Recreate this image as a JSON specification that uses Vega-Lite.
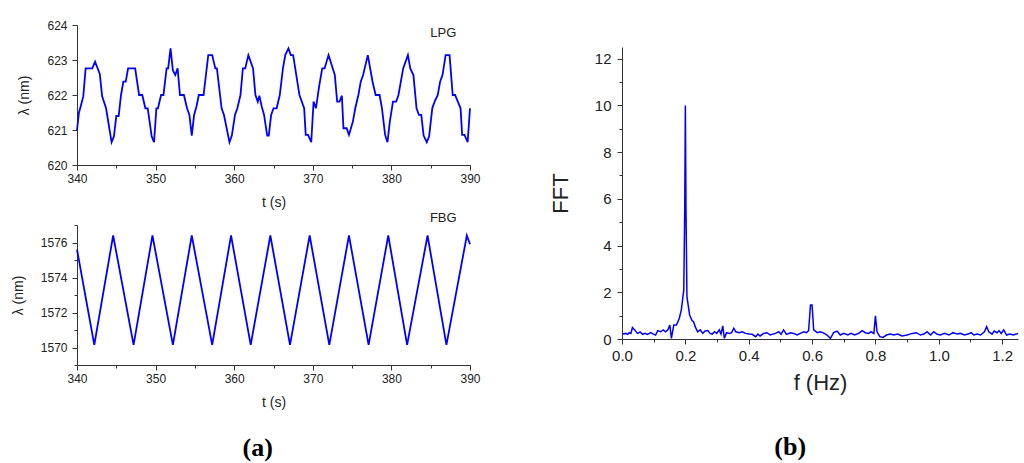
{
  "$schema": "https://vega.github.io/schema/vega-lite/v6.json",
  "background": "white",
  "padding": {"left": 11, "top": 19, "right": 2, "bottom": 2},
  "config": {
    "view": {"stroke": null},
    "font": "Liberation Sans",
    "axis": {
      "grid": false,
      "domainColor": "#333333",
      "tickColor": "#333333",
      "labelColor": "#222222",
      "titleColor": "#222222",
      "titleFontWeight": "normal",
      "labelFont": "Liberation Sans",
      "titleFont": "Liberation Sans",
      "labelOverlap": false,
      "labelFlush": false,
      "tickCount": 100
    }
  },
  "datasets": {
    "lpg": [
      {"t":340,"wl":621.0},{"t":340.25,"wl":621.5},{"t":340.5,"wl":621.7},{"t":340.8,"wl":621.96},{"t":341.1,"wl":622.76},{"t":341.95,"wl":622.76},{"t":342.3,"wl":622.95},{"t":342.9,"wl":622.6},{"t":343.2,"wl":621.96},{"t":343.7,"wl":621.62},{"t":344.4,"wl":620.65},{"t":344.7,"wl":620.82},{"t":345.0,"wl":621.4},{"t":345.3,"wl":621.4},{"t":345.6,"wl":622.0},{"t":345.9,"wl":622.38},{"t":346.2,"wl":622.38},{"t":346.5,"wl":622.76},{"t":347.4,"wl":622.76},{"t":347.9,"wl":622.0},{"t":348.3,"wl":622.0},{"t":348.7,"wl":621.62},{"t":349.0,"wl":621.62},{"t":349.5,"wl":620.82},{"t":349.8,"wl":620.65},{"t":350.1,"wl":621.62},{"t":350.3,"wl":621.62},{"t":350.7,"wl":622.0},{"t":351.0,"wl":622.0},{"t":351.4,"wl":622.76},{"t":351.6,"wl":622.76},{"t":351.9,"wl":623.33},{"t":352.2,"wl":622.7},{"t":352.5,"wl":622.57},{"t":352.8,"wl":622.76},{"t":353.1,"wl":622.0},{"t":353.6,"wl":622.0},{"t":354.0,"wl":621.62},{"t":354.3,"wl":621.43},{"t":354.6,"wl":620.84},{"t":354.9,"wl":621.43},{"t":355.2,"wl":621.67},{"t":355.5,"wl":622.0},{"t":356.1,"wl":622.0},{"t":356.7,"wl":623.14},{"t":357.2,"wl":623.14},{"t":357.6,"wl":622.76},{"t":357.8,"wl":622.76},{"t":358.4,"wl":621.62},{"t":358.7,"wl":621.43},{"t":359.4,"wl":620.65},{"t":359.7,"wl":620.84},{"t":360.1,"wl":621.43},{"t":360.4,"wl":621.62},{"t":360.8,"wl":622.0},{"t":361.1,"wl":622.76},{"t":361.4,"wl":622.76},{"t":361.8,"wl":623.14},{"t":362.4,"wl":622.76},{"t":362.7,"wl":622.0},{"t":363.0,"wl":621.81},{"t":363.2,"wl":621.98},{"t":363.5,"wl":621.67},{"t":363.8,"wl":621.43},{"t":364.2,"wl":620.84},{"t":364.4,"wl":620.84},{"t":364.7,"wl":621.43},{"t":365.0,"wl":621.62},{"t":365.4,"wl":621.62},{"t":365.8,"wl":622.0},{"t":366.2,"wl":622.76},{"t":366.5,"wl":623.14},{"t":366.9,"wl":623.33},{"t":367.2,"wl":623.14},{"t":367.5,"wl":623.14},{"t":367.9,"wl":622.57},{"t":368.3,"wl":622.0},{"t":368.9,"wl":621.62},{"t":369.1,"wl":620.86},{"t":369.4,"wl":620.86},{"t":369.8,"wl":620.65},{"t":370.1,"wl":621.81},{"t":370.4,"wl":621.62},{"t":370.8,"wl":622.24},{"t":371.2,"wl":622.76},{"t":371.5,"wl":622.76},{"t":372.0,"wl":623.14},{"t":372.8,"wl":622.57},{"t":373.1,"wl":621.81},{"t":373.4,"wl":621.81},{"t":373.7,"wl":621.98},{"t":373.9,"wl":621.05},{"t":374.3,"wl":621.05},{"t":374.6,"wl":620.86},{"t":375.1,"wl":621.24},{"t":375.4,"wl":621.62},{"t":375.8,"wl":622.0},{"t":376.1,"wl":622.38},{"t":376.4,"wl":622.57},{"t":377.0,"wl":623.14},{"t":377.6,"wl":622.38},{"t":378.0,"wl":622.0},{"t":378.5,"wl":622.0},{"t":378.8,"wl":621.62},{"t":379.2,"wl":620.86},{"t":379.5,"wl":620.65},{"t":379.8,"wl":621.24},{"t":380.2,"wl":621.81},{"t":380.6,"wl":621.81},{"t":380.9,"wl":622.0},{"t":381.5,"wl":622.76},{"t":382.1,"wl":623.14},{"t":382.4,"wl":622.76},{"t":382.8,"wl":622.57},{"t":383.2,"wl":621.62},{"t":383.5,"wl":621.43},{"t":383.8,"wl":621.43},{"t":384.1,"wl":620.84},{"t":384.5,"wl":620.65},{"t":384.8,"wl":620.82},{"t":385.2,"wl":621.62},{"t":385.5,"wl":621.81},{"t":385.9,"wl":622.0},{"t":386.2,"wl":622.38},{"t":386.5,"wl":622.57},{"t":386.9,"wl":623.14},{"t":387.4,"wl":623.14},{"t":387.8,"wl":622.0},{"t":388.1,"wl":622.0},{"t":388.8,"wl":621.62},{"t":389.0,"wl":620.86},{"t":389.3,"wl":620.86},{"t":389.7,"wl":620.65},{"t":390.0,"wl":621.62}
    ],
    "fbg": [
      {"t":340,"wl":1575.6},{"t":342.2,"wl":1570.15},{"t":344.6,"wl":1576.4},{"t":347.2,"wl":1570.15},{"t":349.6,"wl":1576.4},{"t":352.2,"wl":1570.15},{"t":354.6,"wl":1576.4},{"t":357.2,"wl":1570.15},{"t":359.6,"wl":1576.4},{"t":362.1,"wl":1570.15},{"t":364.6,"wl":1576.4},{"t":367.1,"wl":1570.15},{"t":369.6,"wl":1576.4},{"t":372.1,"wl":1570.15},{"t":374.6,"wl":1576.4},{"t":377.1,"wl":1570.15},{"t":379.6,"wl":1576.4},{"t":382.0,"wl":1570.15},{"t":384.6,"wl":1576.4},{"t":387.0,"wl":1570.15},{"t":389.6,"wl":1576.4},{"t":390,"wl":1575.9}
    ],
    "fft": [
      {"f":0.002,"v":0.21},{"f":0.0125,"v":0.24},{"f":0.018,"v":0.2},{"f":0.023,"v":0.27},{"f":0.028,"v":0.24},{"f":0.033,"v":0.49},{"f":0.04,"v":0.39},{"f":0.049,"v":0.24},{"f":0.057,"v":0.3},{"f":0.065,"v":0.2},{"f":0.073,"v":0.24},{"f":0.08,"v":0.2},{"f":0.091,"v":0.27},{"f":0.099,"v":0.21},{"f":0.106,"v":0.17},{"f":0.113,"v":0.36},{"f":0.122,"v":0.31},{"f":0.13,"v":0.39},{"f":0.1375,"v":0.31},{"f":0.145,"v":0.39},{"f":0.151,"v":0.6},{"f":0.156,"v":0.03},{"f":0.1635,"v":0.6},{"f":0.172,"v":0.6},{"f":0.181,"v":0.89},{"f":0.1875,"v":1.27},{"f":0.195,"v":2.1},{"f":0.198,"v":5.5},{"f":0.2,"v":10.0},{"f":0.202,"v":5.5},{"f":0.205,"v":1.8},{"f":0.2135,"v":1.03},{"f":0.221,"v":0.79},{"f":0.226,"v":0.74},{"f":0.231,"v":0.53},{"f":0.239,"v":0.31},{"f":0.247,"v":0.39},{"f":0.255,"v":0.24},{"f":0.2625,"v":0.34},{"f":0.271,"v":0.36},{"f":0.278,"v":0.24},{"f":0.285,"v":0.21},{"f":0.292,"v":0.31},{"f":0.299,"v":0.24},{"f":0.307,"v":0.39},{"f":0.3125,"v":0.21},{"f":0.318,"v":0.56},{"f":0.323,"v":0.03},{"f":0.33,"v":0.27},{"f":0.339,"v":0.24},{"f":0.346,"v":0.27},{"f":0.353,"v":0.46},{"f":0.359,"v":0.31},{"f":0.37,"v":0.27},{"f":0.38,"v":0.31},{"f":0.39,"v":0.24},{"f":0.401,"v":0.21},{"f":0.411,"v":0.2},{"f":0.422,"v":0.1},{"f":0.429,"v":0.21},{"f":0.436,"v":0.13},{"f":0.447,"v":0.24},{"f":0.458,"v":0.27},{"f":0.468,"v":0.17},{"f":0.484,"v":0.24},{"f":0.495,"v":0.31},{"f":0.502,"v":0.2},{"f":0.51,"v":0.39},{"f":0.519,"v":0.2},{"f":0.532,"v":0.27},{"f":0.542,"v":0.24},{"f":0.553,"v":0.17},{"f":0.563,"v":0.24},{"f":0.574,"v":0.31},{"f":0.582,"v":0.27},{"f":0.589,"v":0.36},{"f":0.595,"v":1.46},{"f":0.6,"v":1.46},{"f":0.605,"v":0.39},{"f":0.616,"v":0.27},{"f":0.626,"v":0.31},{"f":0.639,"v":0.24},{"f":0.647,"v":0.17},{"f":0.658,"v":0.03},{"f":0.668,"v":0.27},{"f":0.679,"v":0.34},{"f":0.689,"v":0.17},{"f":0.7,"v":0.24},{"f":0.713,"v":0.17},{"f":0.723,"v":0.24},{"f":0.734,"v":0.17},{"f":0.747,"v":0.24},{"f":0.758,"v":0.36},{"f":0.768,"v":0.27},{"f":0.779,"v":0.24},{"f":0.786,"v":0.31},{"f":0.795,"v":0.24},{"f":0.8,"v":0.99},{"f":0.805,"v":0.31},{"f":0.814,"v":0.1},{"f":0.824,"v":0.07},{"f":0.835,"v":0.17},{"f":0.847,"v":0.21},{"f":0.858,"v":0.17},{"f":0.87,"v":0.21},{"f":0.884,"v":0.13},{"f":0.9,"v":0.17},{"f":0.916,"v":0.24},{"f":0.929,"v":0.27},{"f":0.942,"v":0.17},{"f":0.953,"v":0.21},{"f":0.963,"v":0.31},{"f":0.974,"v":0.17},{"f":0.984,"v":0.31},{"f":0.995,"v":0.2},{"f":1.005,"v":0.17},{"f":1.018,"v":0.24},{"f":1.032,"v":0.17},{"f":1.045,"v":0.27},{"f":1.058,"v":0.21},{"f":1.068,"v":0.24},{"f":1.081,"v":0.17},{"f":1.092,"v":0.21},{"f":1.102,"v":0.27},{"f":1.111,"v":0.17},{"f":1.121,"v":0.21},{"f":1.132,"v":0.17},{"f":1.144,"v":0.31},{"f":1.151,"v":0.53},{"f":1.158,"v":0.31},{"f":1.168,"v":0.21},{"f":1.175,"v":0.34},{"f":1.184,"v":0.27},{"f":1.19,"v":0.36},{"f":1.197,"v":0.24},{"f":1.205,"v":0.39},{"f":1.214,"v":0.17},{"f":1.224,"v":0.21},{"f":1.235,"v":0.17},{"f":1.245,"v":0.21},{"f":1.25,"v":0.24}
    ],
    "lpgLabel": [{"t": 386.6, "wl": 623.77, "label": "LPG"}],
    "fbgLabel": [{"t": 386.6, "wl": 1577.4, "label": "FBG"}],
    "blank": [{"s": ""}]
  },
  "hconcat": [
    {
      "vconcat": [
        {
          "width": 393,
          "height": 140,
          "layer": [
            {
              "data": {"name": "lpg"},
              "mark": {"type": "line", "color": "#0000ff", "strokeWidth": 1.8},
              "encoding": {
                "x": {
                  "field": "t", "type": "quantitative",
                  "scale": {"domain": [340, 390], "nice": false, "zero": false},
                  "axis": {
                    "title": "t (s)", "titleFontSize": 14, "labelFontSize": 12, "titlePadding": 11, "labelPadding": 3, "labelOverlap": false, "tickCount": 100,
                    "values": [340,345,350,355,360,365,370,375,380,385,390], "format": "d",
                    "labelExpr": "datum.value % 10 === 0 ? datum.label : ''",
                    "tickSize": {"condition": {"test": "datum.value % 10 === 0", "value": 5}, "value": 3}
                  }
                },
                "y": {
                  "field": "wl", "type": "quantitative",
                  "scale": {"domain": [620, 624], "nice": false, "zero": false},
                  "axis": {
                    "title": "λ (nm)", "titleFontSize": 14, "labelFontSize": 12, "titlePadding": 15, "labelPadding": 5, "labelOverlap": false, "tickCount": 100,
                    "values": [620,620.5,621,621.5,622,622.5,623,623.5,624], "format": "d",
                    "labelExpr": "datum.value % 1 === 0 ? datum.label : ''",
                    "tickSize": {"condition": {"test": "datum.value % 1 === 0", "value": 5}, "value": 3}
                  }
                }
              }
            },
            {
              "data": {"name": "lpgLabel"},
              "mark": {"type": "text", "fontSize": 13, "font": "Liberation Sans", "color": "#222222"},
              "encoding": {
                "x": {"field": "t", "type": "quantitative"},
                "y": {"field": "wl", "type": "quantitative"},
                "text": {"field": "label"}
              }
            }
          ]
        },
        {
          "width": 393,
          "height": 140,
          "layer": [
            {
              "data": {"name": "fbg"},
              "mark": {"type": "line", "color": "#0000ff", "strokeWidth": 1.8},
              "encoding": {
                "x": {
                  "field": "t", "type": "quantitative",
                  "scale": {"domain": [340, 390], "nice": false, "zero": false},
                  "axis": {
                    "title": "t (s)", "titleFontSize": 14, "labelFontSize": 12, "titlePadding": 11, "labelPadding": 3, "labelOverlap": false, "tickCount": 100,
                    "values": [340,345,350,355,360,365,370,375,380,385,390], "format": "d",
                    "labelExpr": "datum.value % 10 === 0 ? datum.label : ''",
                    "tickSize": {"condition": {"test": "datum.value % 10 === 0", "value": 5}, "value": 3}
                  }
                },
                "y": {
                  "field": "wl", "type": "quantitative",
                  "scale": {"domain": [1569, 1577], "nice": false, "zero": false},
                  "axis": {
                    "title": "λ (nm)", "titleFontSize": 14, "labelFontSize": 12, "titlePadding": 15, "labelPadding": 5, "labelOverlap": false, "tickCount": 100,
                    "values": [1569,1570,1571,1572,1573,1574,1575,1576,1577], "format": "d",
                    "labelExpr": "datum.value % 2 === 0 ? datum.label : ''",
                    "tickSize": {"condition": {"test": "datum.value % 2 === 0", "value": 5}, "value": 3}
                  }
                }
              }
            },
            {
              "data": {"name": "fbgLabel"},
              "mark": {"type": "text", "fontSize": 13, "font": "Liberation Sans", "color": "#222222"},
              "encoding": {
                "x": {"field": "t", "type": "quantitative"},
                "y": {"field": "wl", "type": "quantitative"},
                "text": {"field": "label"}
              }
            }
          ]
        }
      ],
      "spacing": 60,
      "bounds": "flush",
      "title": {"text": "(a)", "orient": "bottom", "anchor": "middle", "font": "Liberation Serif", "fontSize": 26, "fontWeight": "bold", "color": "#000000", "offset": 26, "dx": 12}
    },
    {
      "vconcat": [
        {
          "width": 396,
          "height": 1,
          "data": {"name": "blank"},
          "mark": {"type": "text"},
          "encoding": {"text": {"field": "s"}}
        },
        {
          "width": 396,
          "height": 292,
          "data": {"name": "fft"},
          "mark": {"type": "line", "color": "#0000ff", "strokeWidth": 1.5},
          "encoding": {
            "x": {
              "field": "f", "type": "quantitative",
              "scale": {"domain": [0, 1.25], "nice": false, "zero": false},
              "axis": {
                "title": "f (Hz)", "titleFontSize": 22, "labelFontSize": 15, "titlePadding": 9, "labelPadding": 4, "labelOverlap": false, "tickCount": 100,
                "values": [0,0.1,0.2,0.3,0.4,0.5,0.6,0.7,0.8,0.9,1.0,1.1,1.2], "format": ".1f",
                "labelExpr": "round(datum.value * 10) % 2 === 0 ? datum.label : ''",
                "tickSize": {"condition": {"test": "round(datum.value * 10) % 2 === 0", "value": 5}, "value": 3}
              }
            },
            "y": {
              "field": "v", "type": "quantitative",
              "scale": {"domain": [0, 12.5], "nice": false, "zero": false},
              "axis": {
                "title": "FFT", "titleFontSize": 22, "labelFontSize": 15, "titlePadding": 22, "labelPadding": 6, "labelOverlap": false, "tickCount": 100,
                "values": [0,1,2,3,4,5,6,7,8,9,10,11,12], "format": "d",
                "labelExpr": "datum.value % 2 === 0 ? datum.label : ''",
                "tickSize": {"condition": {"test": "datum.value % 2 === 0", "value": 5}, "value": 3}
              }
            }
          }
        }
      ],
      "spacing": 21,
      "bounds": "flush",
      "title": {"text": "(b)", "orient": "bottom", "anchor": "middle", "font": "Liberation Serif", "fontSize": 26, "fontWeight": "bold", "color": "#000000", "offset": 41, "dx": 5}
    }
  ],
  "spacing": 68
}
